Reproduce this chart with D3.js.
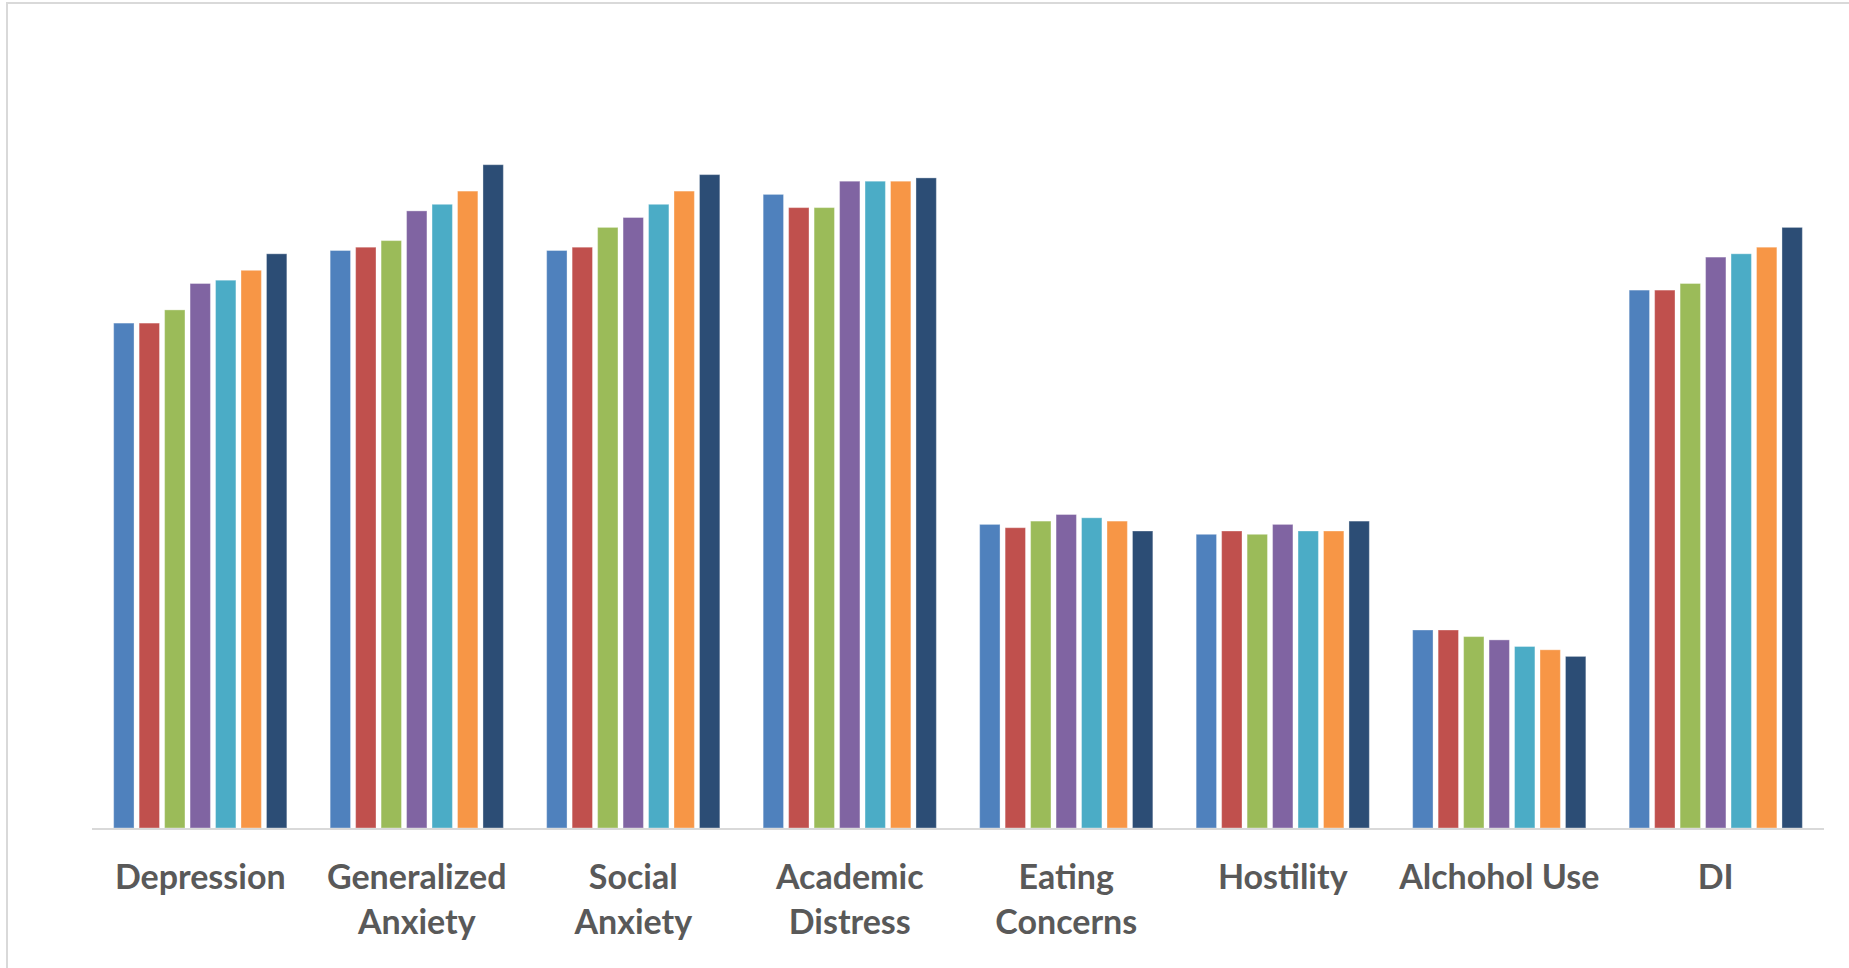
<!DOCTYPE html>
<html>
<head>
<meta charset="utf-8">
<script src="https://cdn.jsdelivr.net/npm/d3@7"></script>
<style>
  body { margin: 0; background: #fff; }
  svg text { font-family: Lato, "Open Sans", sans-serif; font-weight: 700; fill: #595959; }
</style>
</head>
<body>
<svg id="chart" width="1849" height="968"></svg>
<script>
// categories shown on the x axis (line breaks as in the original)
let categories = [
  ["Depression"],
  ["Generalized", "Anxiety"],
  ["Social", "Anxiety"],
  ["Academic", "Distress"],
  ["Eating", "Concerns"],
  ["Hostility"],
  ["Alchohol Use"],
  ["DI"]
];

// seven series, one value per category
let series1 = [1.53, 1.75, 1.75, 1.92, 0.92, 0.89, 0.60, 1.63];
let series2 = [1.53, 1.76, 1.76, 1.88, 0.91, 0.90, 0.60, 1.63];
let series3 = [1.57, 1.78, 1.82, 1.88, 0.93, 0.89, 0.58, 1.65];
let series4 = [1.65, 1.87, 1.85, 1.96, 0.95, 0.92, 0.57, 1.73];
let series5 = [1.66, 1.89, 1.89, 1.96, 0.94, 0.90, 0.55, 1.74];
let series6 = [1.69, 1.93, 1.93, 1.96, 0.93, 0.90, 0.54, 1.76];
let series7 = [1.74, 2.01, 1.98, 1.97, 0.90, 0.93, 0.52, 1.82];

let allSeries = [series1, series2, series3, series4, series5, series6, series7];
let colors = ["#4F81BD", "#C0504D", "#9BBB59", "#8064A2", "#4BACC6", "#F79646", "#2C4D75"];

let svg = d3.select("#chart"),
    width = +svg.attr("width"),
    height = +svg.attr("height");

let baseY = 828;

// chart area border (open on right and bottom, as in the picture)
svg.append("rect")
    .attr("x", 7).attr("y", 3)
    .attr("width", width + 20).attr("height", height + 20)
    .attr("fill", "none")
    .attr("stroke", "#d9d9d9")
    .attr("stroke-width", 2);

let x0 = d3.scaleBand()
    .domain(d3.range(categories.length))
    .range([92, 1824])
    .paddingInner(0.2)
    .paddingOuter(0.1);

let x1 = d3.scaleBand()
    .domain(d3.range(allSeries.length))
    .range([0, x0.bandwidth()])
    .paddingInner(0.2);

let y = d3.scaleLinear()
    .domain([0, 2.5])
    .range([baseY, baseY - 825]);

let groups = svg.selectAll("g.cat")
  .data(categories)
  .enter().append("g")
    .attr("class", "cat")
    .attr("transform", function(d, i) { return "translate(" + x0(i) + ",0)"; });

groups.selectAll("rect")
  .data(function(d, i) { return allSeries.map(function(s, k) { return {k: k, v: s[i]}; }); })
  .enter().append("rect")
    .attr("x", function(d) { return x1(d.k); })
    .attr("y", function(d) { return y(d.v); })
    .attr("width", x1.bandwidth())
    .attr("height", function(d) { return baseY - y(d.v); })
    .attr("fill", function(d) { return colors[d.k]; })
    .attr("stroke", "#ffffff")
    .attr("stroke-opacity", 0.35)
    .attr("stroke-width", 1);

// category axis line
svg.append("line")
    .attr("x1", 92).attr("x2", 1824)
    .attr("y1", baseY + 1).attr("y2", baseY + 1)
    .attr("stroke", "#d9d9d9")
    .attr("stroke-width", 2);

// category labels
let labels = svg.selectAll("text.lbl")
  .data(categories)
  .enter().append("text")
    .attr("class", "lbl")
    .attr("text-anchor", "middle")
    .attr("font-size", 34)
    .attr("x", function(d, i) { return x0(i) + x0.bandwidth() / 2; })
    .attr("y", 889);

labels.selectAll("tspan")
  .data(function(d) { return d; })
  .enter().append("tspan")
    .attr("x", function() { return d3.select(this.parentNode).attr("x"); })
    .attr("dy", function(d, j) { return j === 0 ? 0 : 45; })
    .text(function(d) { return d; });
</script>
</body>
</html>
